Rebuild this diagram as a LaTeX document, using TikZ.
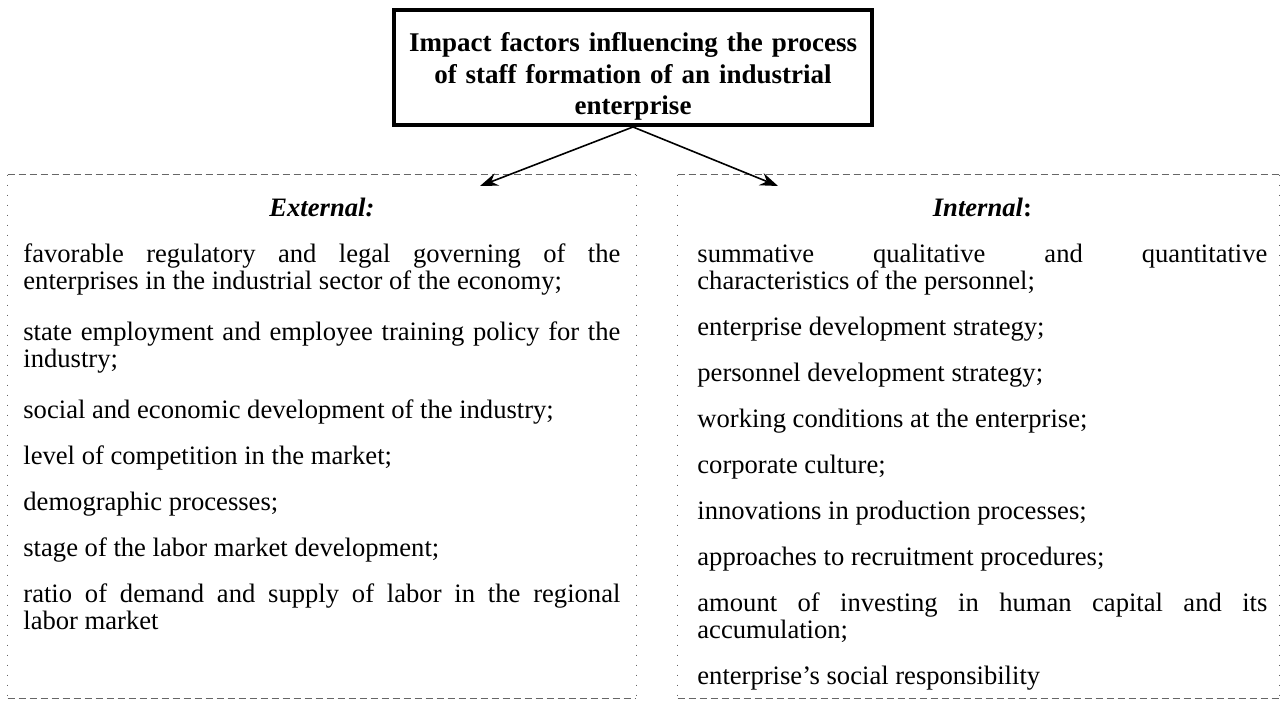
\documentclass[tikz,border=0pt]{standalone}
\usepackage{fontspec}
\setmainfont{Liberation Serif}
\usetikzlibrary{arrows.meta}
\tikzset {>={Stealth[length=9pt,width=6.5pt,inset=3pt]}}
\tikzset{
  titlebox/.style={draw,line width=2pt,minimum width=237.5pt,minimum height=57.5pt,
    text width=232pt,align=center,text height=10pt,text depth=25.5pt,
    font=\fontsize{13.5pt}{15.75pt}\selectfont\bfseries},
  framebox/.style={minimum width=#1,minimum height=261.5pt,inner sep=0pt},
  dashrule/.style={black!60,line width=0.5pt,dash pattern=on 3.5pt off 2pt},
  dotrule/.style={black!60,line width=0.7pt,dash pattern=on 0.7pt off 4.3pt},
  factors/.style={text width=#1,inner sep=0pt,anchor=base west,align=justify,
    font=\fontsize{13.3pt}{13.5pt}\selectfont}
}
\newcommand{\heading}[1]{{\centering\bfseries\itshape #1\par}}
\newcommand{\listsetup}{\setlength{\parskip}{9.5pt}\sloppy\hyphenpenalty=10000\exhyphenpenalty=10000}

\begin{document}
\begin{tikzpicture}[x=0.5pt,y=-0.5pt]
\useasboundingbox (0,0) rectangle (1282,705);
% title
\node[titlebox] (title) at (633,67.5)
  {Impact factors influencing the process\\ of staff formation of an industrial\\ enterprise};
% frames of the two groups
\node[framebox=314pt] (extbox) at (322,436.5) {};
\node[framebox=300.5pt] (intbox) at (978.5,436.5) {};
\foreach \b in {extbox,intbox} {
  \draw[dashrule] (\b.north west) -- (\b.north east) (\b.south west) -- (\b.south east);
  \draw[dotrule] (\b.north west) -- (\b.south west) (\b.north east) -- (\b.south east);
}
% external factors
\node[factors=298.5pt] (extlist) at (23,217) {\listsetup
  \heading{External:}
  favorable regulatory and legal governing of the\linebreak enterprises in the industrial sector of the economy;\par\vspace{2.5pt}
  state employment and employee training policy for the\linebreak industry;\par\vspace{2.5pt}
  social and economic development of the industry;\par
  level of competition in the market;\par
  demographic processes;\par
  stage of the labor market development;\par
  ratio of demand and supply of labor in the regional\linebreak labor market\par};
% internal factors
\node[factors=285pt] (intlist) at (697,217) {\listsetup
  \heading{Internal\upshape:}
  summative qualitative and quantitative\linebreak characteristics of the personnel;\par
  enterprise development strategy;\par
  personnel development strategy;\par
  working conditions at the enterprise;\par
  corporate culture;\par
  innovations in production processes;\par
  approaches to recruitment procedures;\par
  amount of investing in human capital and its\linebreak accumulation;\par
  enterprise's social responsibility\par};
% arrows
\coordinate (extin) at (480,186);
\coordinate (intin) at (778,186);
\draw[->,line width=0.8pt] (title.south) -- (extin);
\draw[->,line width=0.8pt] (title.south) -- (intin);
\end{tikzpicture}
\end{document}
